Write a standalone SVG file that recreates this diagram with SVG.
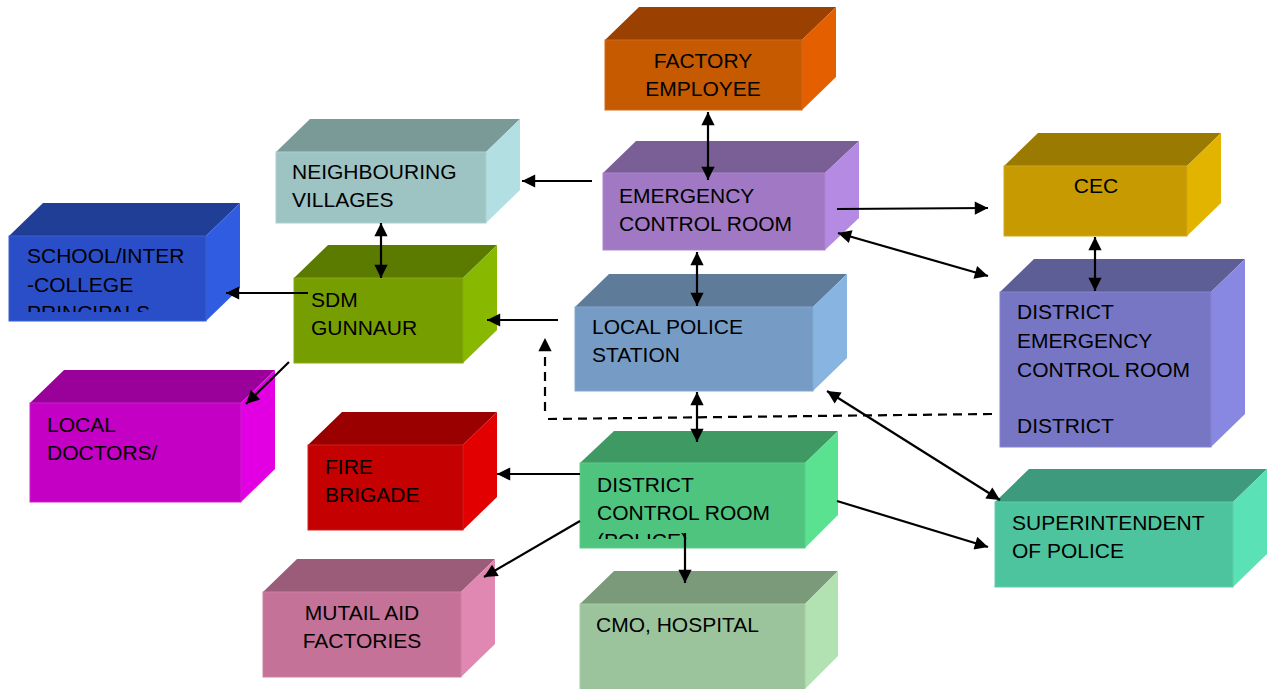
<svg xmlns="http://www.w3.org/2000/svg" width="1275" height="689" viewBox="0 0 1275 689">
<style>
text{font-family:"Liberation Sans",Arial,sans-serif;font-size:21px;fill:#000}
.c{text-anchor:middle}
.ln{stroke:#000;stroke-width:2.2;fill:none}
.one{marker-end:url(#ah)}
.two{marker-start:url(#ah);marker-end:url(#ah)}
.dash{stroke-dasharray:9 6}
</style>
<defs>
<marker id="ah" viewBox="0 0 10 10" refX="10" refY="5" markerWidth="7" markerHeight="6" orient="auto-start-reverse" markerUnits="strokeWidth">
<path d="M0,0 L10,5 L0,10 z" fill="#000"/>
</marker>
<clipPath id="clipSchool"><rect x="9" y="236" width="197" height="76"/></clipPath>
<clipPath id="clipDcr"><rect x="580" y="463" width="225" height="76"/></clipPath>
</defs>

<g id="factory-employee">
<polygon points="605,40 639,7 836,7 802,40" fill="#9A4000"/>
<polygon points="802,40 836,7 836,77 802,110" fill="#E35F00"/>
<rect x="605" y="40" width="197" height="70" fill="#C55A00" stroke="#D06A1A" stroke-width="1"/>
<text class="c" x="703" y="68">FACTORY</text>
<text class="c" x="703" y="96">EMPLOYEE</text>
</g>

<g id="neighbouring-villages">
<polygon points="276,152 310,119 520,119 486,152" fill="#7A9A98"/>
<polygon points="486,152 520,119 520,190 486,223" fill="#B2E0E2"/>
<rect x="276" y="152" width="210" height="71" fill="#9DC3C3" stroke="#AED0D0" stroke-width="1"/>
<text x="292" y="179">NEIGHBOURING</text>
<text x="292" y="207">VILLAGES</text>
</g>

<g id="sdm-gunnaur">
<polygon points="294,278 328,245 497,245 463,278" fill="#5A7A00"/>
<polygon points="463,278 497,245 497,330 463,363" fill="#88B800"/>
<rect x="294" y="278" width="169" height="85" fill="#779E00" stroke="#86AA10" stroke-width="1"/>
<text x="311" y="307">SDM</text>
<text x="311" y="335">GUNNAUR</text>
</g>

<g id="school-principals">
<polygon points="9,236 43,203 240,203 206,236" fill="#213E96"/>
<polygon points="206,236 240,203 240,288 206,321" fill="#2F5CE0"/>
<rect x="9" y="236" width="197" height="85" fill="#2A4EC8" stroke="#3A5ED0" stroke-width="1"/>
<g clip-path="url(#clipSchool)">
<text x="27" y="263">SCHOOL/INTER</text>
<text x="27" y="292">-COLLEGE</text>
<text x="27" y="320">PRINCIPALS</text>
</g>
</g>

<g id="emergency-control-room">
<polygon points="603,173 636,141 859,141 825,173" fill="#7A5E96"/>
<polygon points="825,173 859,141 859,218 825,250" fill="#B48AE2"/>
<rect x="603" y="173" width="222" height="77" fill="#A078C4" stroke="#AC86CC" stroke-width="1"/>
<text x="619" y="203">EMERGENCY</text>
<text x="619" y="231">CONTROL ROOM</text>
</g>

<g id="cec">
<polygon points="1004,166 1038,133 1221,133 1187,166" fill="#9A7A00"/>
<polygon points="1187,166 1221,133 1221,203 1187,236" fill="#E2B400"/>
<rect x="1004" y="166" width="183" height="70" fill="#C69A00" stroke="#D0A81A" stroke-width="1"/>
<text class="c" x="1096" y="193">CEC</text>
</g>

<g id="district-emergency-control-room">
<polygon points="1000,292 1034,259 1245,259 1211,292" fill="#5E5E96"/>
<polygon points="1211,292 1245,259 1245,414 1211,447" fill="#8888E2"/>
<rect x="1000" y="292" width="211" height="155" fill="#7676C4" stroke="#8484CC" stroke-width="1"/>
<text x="1017" y="319">DISTRICT</text>
<text x="1017" y="348">EMERGENCY</text>
<text x="1017" y="377">CONTROL ROOM</text>
<text x="1017" y="433">DISTRICT</text>
</g>

<g id="local-police-station">
<polygon points="575,307 609,274 847,274 813,307" fill="#5E7C9A"/>
<polygon points="813,307 847,274 847,358 813,391" fill="#88B4E2"/>
<rect x="575" y="307" width="238" height="84" fill="#769CC6" stroke="#84A8CE" stroke-width="1"/>
<text x="592" y="334">LOCAL POLICE</text>
<text x="592" y="362">STATION</text>
</g>

<g id="local-doctors">
<polygon points="30,403 64,370 275,370 241,403" fill="#9A009A"/>
<polygon points="241,403 275,370 275,469 241,502" fill="#E200E2"/>
<rect x="30" y="403" width="211" height="99" fill="#C400C4" stroke="#CC20CC" stroke-width="1"/>
<text x="47" y="432">LOCAL</text>
<text x="47" y="460">DOCTORS/</text>
</g>

<g id="fire-brigade">
<polygon points="308,445 342,412 497,412 463,445" fill="#9A0000"/>
<polygon points="463,445 497,412 497,497 463,530" fill="#E20000"/>
<rect x="308" y="445" width="155" height="85" fill="#C40000" stroke="#CC2020" stroke-width="1"/>
<text x="325" y="474">FIRE</text>
<text x="325" y="502">BRIGADE</text>
</g>

<g id="district-control-room-police">
<polygon points="580,463 614,431 838,431 805,463" fill="#3E9A62"/>
<polygon points="805,463 838,431 838,515 805,548" fill="#5AE290"/>
<rect x="580" y="463" width="225" height="85" fill="#4EC47E" stroke="#5ECC8A" stroke-width="1"/>
<g clip-path="url(#clipDcr)">
<text x="597" y="492">DISTRICT</text>
<text x="597" y="520">CONTROL ROOM</text>
<text x="597" y="548">(POLICE)</text>
</g>
</g>

<g id="superintendent-of-police">
<polygon points="995,502 1029,469 1267,469 1233,502" fill="#3E9A7C"/>
<polygon points="1233,502 1267,469 1267,554 1233,587" fill="#5AE2B6"/>
<rect x="995" y="502" width="238" height="85" fill="#4EC49E" stroke="#5ECCA8" stroke-width="1"/>
<text x="1012" y="530">SUPERINTENDENT</text>
<text x="1012" y="558">OF POLICE</text>
</g>

<g id="mutual-aid-factories">
<polygon points="263,592 297,559 495,559 461,592" fill="#9A5C78"/>
<polygon points="461,592 495,559 495,644 461,677" fill="#E088B2"/>
<rect x="263" y="592" width="198" height="85" fill="#C47298" stroke="#CC80A2" stroke-width="1"/>
<text class="c" x="362" y="620">MUTAIL AID</text>
<text class="c" x="362" y="648">FACTORIES</text>
</g>

<g id="cmo-hospital">
<polygon points="580,604 614,571 838,571 805,604" fill="#7A9A7A"/>
<polygon points="805,604 838,571 838,656 805,689" fill="#B2E2B2"/>
<rect x="580" y="604" width="225" height="86" fill="#9CC49C" stroke="#A8CCA8" stroke-width="1"/>
<text x="596" y="632">CMO, HOSPITAL</text>
</g>

<g id="connectors">
<line class="ln two" x1="708" y1="112" x2="708" y2="180"/>
<line class="ln one" x1="592" y1="181" x2="522" y2="181"/>
<line class="ln one" x1="837" y1="209" x2="988" y2="208"/>
<line class="ln two" x1="838" y1="233" x2="988" y2="276"/>
<line class="ln two" x1="1095" y1="237" x2="1095" y2="291"/>
<line class="ln two" x1="381" y1="223" x2="381" y2="278"/>
<line class="ln one" x1="308" y1="293" x2="226" y2="293"/>
<line class="ln one" x1="289" y1="362" x2="246" y2="404"/>
<line class="ln one" x1="558" y1="320" x2="487" y2="320"/>
<line class="ln two" x1="697" y1="252" x2="697" y2="306"/>
<line class="ln two" x1="697" y1="392" x2="697" y2="442"/>
<polyline class="ln dash" points="992,414 548,419"/>
<line class="ln dash one" x1="545" y1="411" x2="545" y2="338"/>
<line class="ln two" x1="827" y1="391" x2="1000" y2="500"/>
<line class="ln one" x1="837" y1="501" x2="988" y2="547"/>
<line class="ln one" x1="580" y1="474" x2="497" y2="474"/>
<line class="ln one" x1="580" y1="521" x2="484" y2="577"/>
<line class="ln one" x1="685" y1="533" x2="685" y2="583"/>
</g>
</svg>
